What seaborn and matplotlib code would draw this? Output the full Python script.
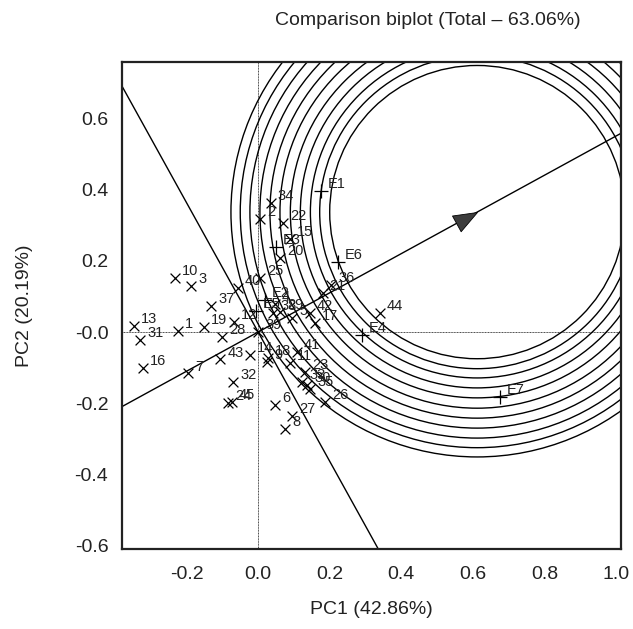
import numpy as np
import pandas as pd
import matplotlib
matplotlib.use('Agg')
import matplotlib.pyplot as plt
from matplotlib.patches import Circle
from matplotlib.markers import MarkerStyle
from matplotlib.path import Path
from matplotlib.transforms import Affine2D
import seaborn as sns

# Estilo
sns.set_style('white')
plt.rcParams['font.family'] = ['Liberation Sans', 'DejaVu Sans']

# Genotipos (marcador x)
geno_labels = ['1', '2', '3', '4', '5', '6', '7', '8', '9', '10',
               '11', '12', '13', '14', '15', '16', '17', '18', '19', '20',
               '21', '22', '23', '24', '25', '26', '27', '28', '29', '30',
               '31', '32', '33', '34', '35', '36', '37', '38', '39', '40',
               '41', '42', '43', '44', '45']
geno_pc1 = [-0.223, 0.006, -0.187, 0.047, 0.095, 0.047, -0.195, 0.075, 0.025, -0.232,
            0.090, -0.067, -0.346, -0.022, 0.090, -0.321, 0.160, 0.028, -0.151, 0.061,
            0.180, 0.070, 0.131, -0.084, 0.006, 0.187, 0.095, -0.100, 0.061, 0.137,
            -0.330, -0.070, 0.123, 0.036, 0.145, 0.204, -0.131, 0.042, 0.000, -0.056,
            0.109, 0.145, -0.106, 0.341, -0.073]
geno_pc2 = [0.003, 0.317, 0.129, 0.079, 0.040, -0.205, -0.116, -0.272, -0.084, 0.152,
            -0.087, 0.028, 0.017, -0.065, 0.262, -0.100, 0.025, -0.073, 0.014, 0.208,
            0.110, 0.306, -0.112, -0.200, 0.152, -0.197, -0.236, -0.014, 0.056, -0.149,
            -0.022, -0.140, -0.140, 0.362, -0.160, 0.132, 0.073, 0.053, 0.000, 0.124,
            -0.056, 0.053, -0.077, 0.053, -0.197]

# Ambientes (marcador +)
env_labels = ['E1', 'E2', 'E3', 'E4', 'E5', 'E6', 'E7']
env_pc1 = [0.176, 0.020, 0.050, 0.290, -0.006, 0.223, 0.676]
env_pc2 = [0.396, 0.090, 0.240, -0.008, 0.059, 0.197, -0.183]

# Ambiente ideal y círculos concéntricos
ideal_pc1 = 0.612
ideal_pc2 = 0.337
circle_radii = [0.412, 0.440, 0.466, 0.494, 0.522, 0.551, 0.579, 0.607, 0.635, 0.662, 0.688]

x_ticks = [-0.2, 0.0, 0.2, 0.4, 0.6, 0.8, 1.0]
x_ticklabels = ['-0.2', '0.0', '0.2', '0.4', '0.6', '0.8', '1.0']
y_ticks = [0.6, 0.4, 0.2, 0.0, -0.2, -0.4, -0.6]
y_ticklabels = ['0.6', '0.4', '0.2', '-0.0', '-0.2', '-0.4', '-0.6']

df_geno = pd.DataFrame({'PC1': geno_pc1, 'PC2': geno_pc2, 'label': geno_labels})
df_env = pd.DataFrame({'PC1': env_pc1, 'PC2': env_pc2, 'label': env_labels})

fig = plt.figure(figsize=(6.33, 6.29), dpi=100)
ax = fig.add_axes([0.193, 0.127, 0.788, 0.774])

# Ejes de referencia
ax.axhline(0, color='#444444', lw=0.7, ls=(0, (1, 0.6)), zorder=1)
ax.axvline(0, color='#444444', lw=0.7, ls=(0, (1, 0.6)), zorder=1)

# Círculos
for r in circle_radii:
    ax.add_patch(Circle((ideal_pc1, ideal_pc2), r, fill=False, ec='black', lw=1.0, zorder=2))

# Eje del ambiente promedio y su perpendicular
slope = ideal_pc2 / ideal_pc1
ax.axline((0, 0), slope=slope, color='black', lw=1.0, zorder=2)
ax.axline((0, 0), slope=-1 / slope, color='black', lw=1.0, zorder=2)

# Punta de flecha en el ambiente ideal
head = Path([(0, 0), (-1, 0.38), (-1, -0.38), (0, 0)],
            [Path.MOVETO, Path.LINETO, Path.LINETO, Path.CLOSEPOLY])
angle = np.degrees(np.arctan(slope))
head_marker = MarkerStyle(head, transform=Affine2D().rotate_deg(angle))
ax.plot([ideal_pc1], [ideal_pc2], marker=head_marker, markersize=34,
        color='#3c3c3c', mec='black', mew=0.6, ls='none', zorder=5)

# Puntos
sns.scatterplot(data=df_geno, x='PC1', y='PC2', marker='x', color='black',
                s=50, linewidth=0.9, ax=ax, zorder=4, legend=False)
sns.scatterplot(data=df_env, x='PC1', y='PC2', marker='+', color='black',
                s=110, linewidth=0.9, ax=ax, zorder=4, legend=False)

for _, row in pd.concat([df_geno, df_env]).iterrows():
    ax.annotate(row['label'], (row['PC1'], row['PC2']), xytext=(5, 2),
                textcoords='offset points', fontsize=10.5, color='#222222',
                ha='left', va='baseline', zorder=6)

ax.set_xlim(-0.38, 1.014)
ax.set_ylim(-0.61, 0.758)
ax.set_xticks(x_ticks)
ax.set_xticklabels(x_ticklabels)
ax.set_yticks(y_ticks)
ax.set_yticklabels(y_ticklabels)
ax.tick_params(axis='both', direction='in', length=9, width=1.0, labelsize=14,
               color='black', pad=10, labelcolor='#222222')
ax.tick_params(axis='x', pad=12)
for sp in ax.spines.values():
    sp.set_color('#222222')
    sp.set_linewidth(1.6)

ax.set_xlabel('PC1 (42.86%)', fontsize=14, color='#222222', labelpad=13)
ax.set_ylabel('PC2 (20.19%)', fontsize=14, color='#222222', labelpad=30)
fig.text(0.676, 0.967, 'Comparison biplot (Total \u2013 63.06%)', fontsize=14,
         color='#222222', ha='center', va='center')

fig.savefig('out.png', dpi=100)
